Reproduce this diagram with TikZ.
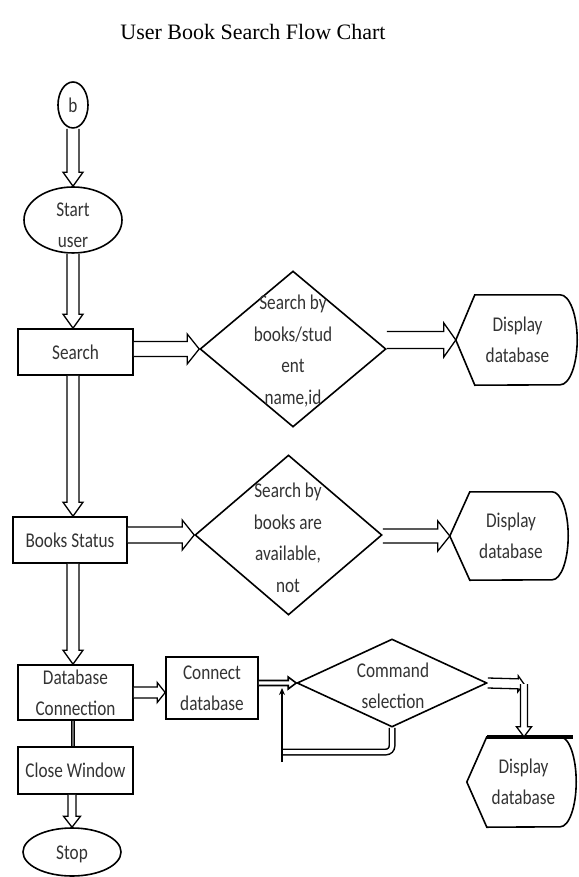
\documentclass[tikz,border=0pt]{standalone}
\usepackage{fontspec}
\setmainfont{Liberation Serif}
\newfontfamily\flowfont[FakeStretch=0.82]{Carlito}
\usetikzlibrary{shapes.geometric,calc,arrows.meta}

\tikzset{
  % parameters of the hollow block arrows
  bashaft/.store in=\bashaft, bahead/.store in=\bahead, balen/.store in=\balen,
  bashaft=6pt, bahead=10pt, balen=14pt,
  barrow/.style={draw=black, fill=white, line width=1.3pt, line join=miter,
    to path={let \p1=(\tikztostart), \p2=(\tikztotarget),
                 \p3=($(\p2)!\balen!(\p1)$) in
      ($(\p1)!\bashaft!90:(\p2)$) -- ($(\p3)!\bashaft!90:(\p2)$)
      -- ($(\p3)!\bahead!90:(\p2)$) -- (\p2)
      -- ($(\p3)!\bahead!-90:(\p2)$) -- ($(\p3)!\bashaft!-90:(\p2)$)
      -- ($(\p1)!\bashaft!-90:(\p2)$)}},
  ftxt/.style={font=\flowfont\fontsize{21}{31}\selectfont, text=black!80,
    align=center, inner sep=0pt},
  dtxt/.style={ftxt, font=\flowfont\fontsize{21}{31.5}\selectfont},
  outline/.style={draw=black, line width=1.6pt},
  box/.style={rectangle, outline, ftxt},
  oval/.style={ellipse, outline, inner sep=0pt},
  dia/.style={diamond, outline, inner sep=0pt},
  dbl/.style={draw=black, line width=1.5pt, double=white, double distance=4pt},
}

\newcommand\displayoutline[4]{% node, arc x radius, arc y radius, point offset
  \draw[outline, line join=miter] (#1.north west) -- (#1.north east)
    arc[start angle=90, end angle=-90, x radius=#2, y radius=#3]
    -- (#1.south west) -- ([xshift=-#4]#1.west) -- cycle;}

\begin{document}
\begin{tikzpicture}[x=1pt, y=-1pt]
\useasboundingbox (0,0) rectangle (578,877);

\node[font=\fontsize{22}{26}\selectfont] (title) at (253,32) {User Book Search Flow Chart};

% main column
\node[oval, minimum width=30pt, minimum height=46pt, ftxt] (b) at (73,105) {b};
\node[oval, minimum width=98pt, minimum height=66pt] (start) at (73,220) {};
\node[ftxt] (startt) at (73,225) {Start\\user};
\node[box, minimum width=115pt, minimum height=46pt] (search) at (75.5,352) {Search};
\node[box, minimum width=114pt, minimum height=46pt] (books) at (70,540) {Books Status};
\node[box, minimum width=115pt, minimum height=55pt] (dbconn) at (75.5,692.5) {Database\\Connection};
\node[box, minimum width=115pt, minimum height=47pt] (close) at (75.5,770.5) {Close Window};
\node[oval, minimum width=98pt, minimum height=48pt] (stop) at (72,852) {};
\node[ftxt] (stopt) at (72,854) {Stop};

% first search branch
\node[dia, minimum width=186pt, minimum height=156pt] (d1) at (293,349) {};
\node[dtxt] (d1t) at (293,351) {Search by\\books/stud\\ent\\name,id};
\node[ftxt, minimum width=85pt, minimum height=90pt] (disp1) at (517.5,340) {Display\\database};
\displayoutline{disp1}{17pt}{45pt}{19pt}
\coordinate (disp1tip) at ([xshift=-19pt]disp1.west);

% status branch
\node[dia, minimum width=187pt, minimum height=160pt] (d2) at (288.5,535) {};
\node[dtxt] (d2t) at (288,538) {Search by\\books are\\available,\\not};
\node[ftxt, minimum width=82pt, minimum height=88pt] (disp2) at (511,536) {Display\\database};
\displayoutline{disp2}{16pt}{44pt}{20pt}
\coordinate (disp2tip) at ([xshift=-20pt]disp2.west);

% database branch
\node[box, minimum width=92pt, minimum height=62pt] (connect) at (212,688) {Connect\\database};
\node[dia, minimum width=190pt, minimum height=88pt] (d3) at (392,683) {};
\node[ftxt] (d3t) at (393,686) {Command\\selection};
\node[ftxt, minimum width=73pt, minimum height=90pt] (disp3) at (523.5,782) {Display\\database};
\displayoutline{disp3}{16pt}{45pt}{20pt}
\draw[line width=3.5pt] (disp3.north west) -- ([xshift=13pt]disp3.north east);

% vertical flow
\draw[barrow] (b.south) to (start.north);
\draw[barrow] (start.south) to (search.north -| start.south);
\draw[barrow] (search.south -| start.south) to (books.north -| start.south);
\draw[barrow] (books.south -| start.south) to (dbconn.north -| start.south);
\draw[draw=black, line width=1.5pt, double=black!60, double distance=1.5pt]
  (dbconn.south -| start.south) -- (close.north -| start.south);
\draw[barrow, bashaft=4pt, bahead=8.5pt, balen=11pt] (close.south -| stop.north) to (stop.north);

% horizontal flow
\draw[barrow, bashaft=7.5pt, bahead=15pt, balen=12pt] (search.east |- d1.west) to (d1.west);
\draw[barrow, bashaft=8.5pt, bahead=17pt, balen=12pt] (d1.east |- disp1tip) to (disp1tip);
\draw[barrow, bashaft=8pt, bahead=15pt, balen=12pt] (books.east |- d2.west) to (d2.west);
\draw[barrow, bashaft=7pt, bahead=15pt, balen=12pt] (d2.east |- disp2tip) to (disp2tip);
\draw[barrow, bashaft=5.5pt, bahead=10pt, balen=8pt] (dbconn.east) to (connect.west |- dbconn.east);
\draw[barrow, line width=1.6pt, bashaft=2.5pt, bahead=6pt, balen=8pt] (connect.east |- d3.west) to (d3.west);

% loop back from the command selection
\coordinate (loopend) at (282,752);
\coordinate (loopfoot) at (282,762);
\draw[dbl, rounded corners=6pt] (d3.south) |- (loopend);
\draw[line width=1.8pt, -{Stealth[length=7pt,width=6pt]}] (loopfoot) -- (loopfoot |- connect.east);

% to the last display
\coordinate (bend) at (524,684);
\draw[barrow, bashaft=5pt, bahead=8pt, balen=6pt] (d3.east) to (bend);
\draw[barrow, bashaft=3.5pt, bahead=7.5pt, balen=10pt] (bend) to (bend |- disp3.north);
\end{tikzpicture}
\end{document}
